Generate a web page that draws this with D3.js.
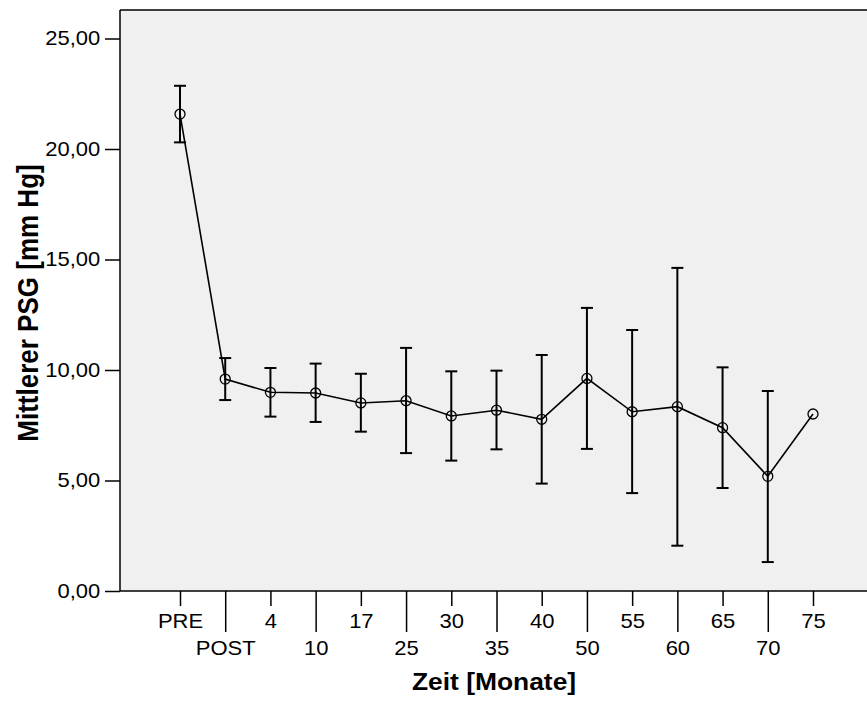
<!DOCTYPE html>
<html>
<head>
<meta charset="utf-8">
<script src="https://cdn.jsdelivr.net/npm/d3@7"></script>
<style>
  body { margin: 0; background: #fff; }
  text { font-family: 'Liberation Sans', Arial, sans-serif; fill: #000; }
</style>
</head>
<body>
<div id="wrapper"></div>
<script>
// Werte
const timeLabels = ['PRE', 'POST', '4', '10', '17', '25', '30', '35', '40', '50', '55', '60', '65', '70', '75']
const meanPSG = [21.58, 9.59, 8.99, 8.96, 8.51, 8.61, 7.92, 8.18, 7.77, 9.62, 8.11, 8.34, 7.39, 5.19, 8.01]
const upperCI = [22.86, 10.54, 10.09, 10.29, 9.83, 11.0, 9.94, 9.97, 10.68, 12.81, 11.81, 14.62, 10.12, 9.05, null]
const lowerCI = [20.3, 8.64, 7.89, 7.65, 7.21, 6.24, 5.9, 6.41, 4.86, 6.43, 4.43, 2.05, 4.66, 1.31, null]
const yTicks = [0, 5, 10, 15, 20, 25]

const width = 867
const height = 702
const frame = { left: 120, top: 10, bottom: 591, right: 867 }
const stretch = 'scale(1.1,1)' // Schrift ist im Original leicht breitgezogen

const data = timeLabels.map((t, i) => ({
  t, mean: meanPSG[i], hi: upperCI[i], lo: lowerCI[i],
}))

const svg = d3.select('#wrapper')
  .append('svg')
  .attr('width', width)
  .attr('height', height)

const x = d3.scalePoint()
  .domain(timeLabels)
  .range([180, 813])

const y = d3.scaleLinear()
  .domain([0, 25])
  .range([frame.bottom, 38.5])

// Hintergrund + Rahmen
svg.append('rect')
  .attr('x', frame.left)
  .attr('y', frame.top)
  .attr('width', frame.right - frame.left)
  .attr('height', frame.bottom - frame.top)
  .attr('fill', '#f0f0f0')

svg.append('line')
  .attr('x1', frame.left).attr('x2', frame.right)
  .attr('y1', frame.top).attr('y2', frame.top)
  .attr('stroke', '#000').attr('stroke-width', 1.5)

svg.append('line')
  .attr('x1', frame.left).attr('x2', frame.right)
  .attr('y1', frame.bottom).attr('y2', frame.bottom)
  .attr('stroke', '#000').attr('stroke-width', 1.5)

// y-Achse
const yAxis = svg.append('g')
  .attr('transform', `translate(${frame.left},0)`)
  .call(d3.axisLeft(y)
    .tickValues(yTicks)
    .tickFormat((d) => d3.format('.2f')(d).replace('.', ','))
    .tickSize(15)
    .tickPadding(3)
    .tickSizeOuter(0))
yAxis.select('.domain').remove()
yAxis.append('line')
  .attr('x1', 0).attr('x2', 0)
  .attr('y1', frame.top).attr('y2', frame.bottom)
  .attr('stroke', '#000').attr('stroke-width', 1.5)
yAxis.selectAll('.tick line').attr('stroke', '#000').attr('stroke-width', 1.5)
yAxis.selectAll('.tick text')
  .attr('font-size', 20)
  .attr('font-family', "'Liberation Sans', Arial, sans-serif")
  .attr('transform', stretch)

// x-Achse, Beschriftung versetzt in zwei Reihen
const xAxis = svg.append('g')
  .attr('transform', `translate(0,${frame.bottom})`)
  .call(d3.axisBottom(x).tickSize(15).tickSizeOuter(0))
xAxis.select('.domain').remove()
xAxis.selectAll('.tick').each(function (d, i) {
  const g = d3.select(this)
  g.select('line')
    .attr('y2', i % 2 ? 41 : 15)
    .attr('stroke', '#000')
    .attr('stroke-width', 1.5)
  g.select('text')
    .attr('y', i % 2 ? 64 : 37)
    .attr('dy', 0)
    .attr('font-size', 20)
    .attr('font-family', "'Liberation Sans', Arial, sans-serif")
    .attr('transform', stretch)
})

// Achsentitel
svg.append('text')
  .attr('transform', `translate(494,690) ${stretch}`)
  .attr('text-anchor', 'middle')
  .attr('font-size', 24)
  .attr('font-weight', 'bold')
  .text('Zeit [Monate]')

svg.append('text')
  .attr('transform', `translate(38,303) ${stretch} rotate(-90)`)
  .attr('text-anchor', 'middle')
  .attr('font-size', 26)
  .attr('font-weight', 'bold')
  .text('Mittlerer PSG [mm Hg]')

// Fehlerbalken
const bars = svg.append('g')
  .selectAll('g')
  .data(data.filter((d) => d.hi != null))
  .enter()
  .append('g')
  .attr('stroke', '#000')
  .attr('stroke-width', 2)

bars.append('line')
  .attr('x1', (d) => x(d.t)).attr('x2', (d) => x(d.t))
  .attr('y1', (d) => y(d.lo)).attr('y2', (d) => y(d.hi))
bars.append('line')
  .attr('x1', (d) => x(d.t) - 6).attr('x2', (d) => x(d.t) + 6)
  .attr('y1', (d) => y(d.hi)).attr('y2', (d) => y(d.hi))
bars.append('line')
  .attr('x1', (d) => x(d.t) - 6).attr('x2', (d) => x(d.t) + 6)
  .attr('y1', (d) => y(d.lo)).attr('y2', (d) => y(d.lo))

// Mittelwertlinie
const line = d3.line()
  .x((d) => x(d.t))
  .y((d) => y(d.mean))

svg.append('path')
  .datum(data)
  .attr('fill', 'none')
  .attr('stroke', '#000')
  .attr('stroke-width', 1.6)
  .attr('d', line)

svg.append('g')
  .selectAll('circle')
  .data(data)
  .enter()
  .append('circle')
  .attr('cx', (d) => x(d.t))
  .attr('cy', (d) => y(d.mean))
  .attr('r', 5)
  .attr('fill', 'none')
  .attr('stroke', '#000')
  .attr('stroke-width', 1.3)
</script>
</body>
</html>
